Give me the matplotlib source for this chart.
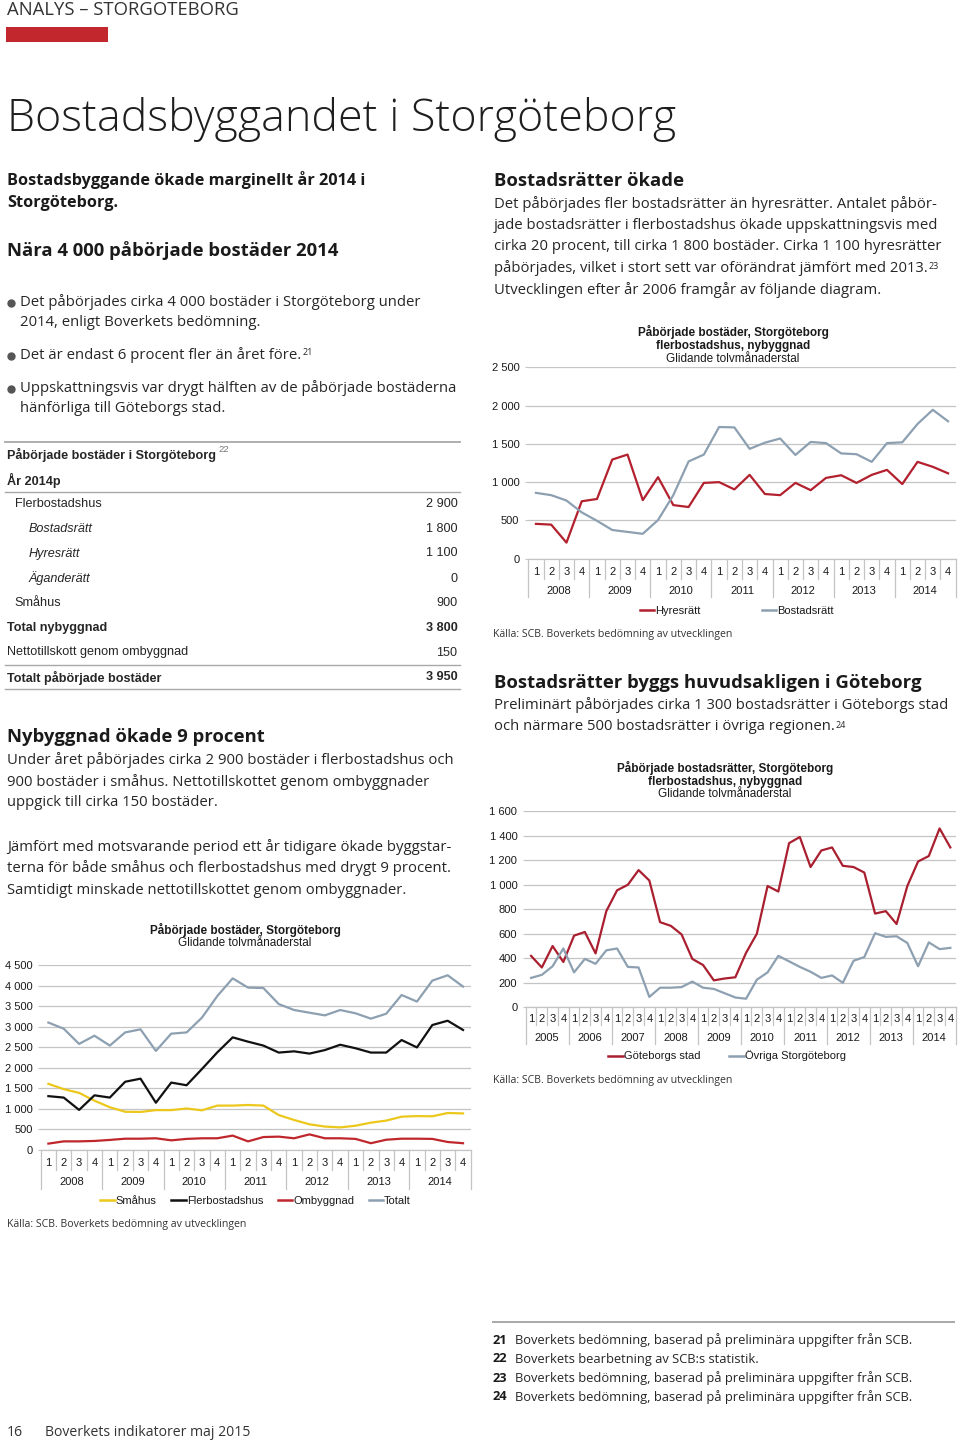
import numpy as np
import matplotlib
matplotlib.use("Agg")
import matplotlib.pyplot as plt
from matplotlib.lines import Line2D
from matplotlib.ticker import FuncFormatter
from matplotlib.transforms import blended_transform_factory

# ---------------- data ----------------
years_a = ["2008", "2009", "2010", "2011", "2012", "2013", "2014"]
smahus = [1610, 1480, 1390, 1200, 1040, 930, 925, 970, 970, 1010, 965, 1080, 1080, 1095,
          1080, 850, 730, 625, 570, 550, 590, 665, 715, 810, 825, 820, 900, 890]
flerbostadshus = [1310, 1275, 975, 1330, 1275, 1660, 1735, 1150, 1640, 1575, 1970, 2375, 2740, 2635,
                  2540, 2370, 2400, 2345, 2430, 2560, 2475, 2370, 2370, 2675, 2495, 3040, 3145, 2920]
ombyggnad = [155, 210, 210, 220, 245, 275, 275, 285, 235, 270, 285, 285, 350, 210,
             315, 325, 285, 380, 285, 285, 270, 165, 250, 275, 275, 270, 195, 165]
totalt = [3100, 2950, 2580, 2780, 2540, 2860, 2935, 2410, 2830, 2860, 3220, 3745, 4175, 3950,
          3940, 3550, 3405, 3340, 3275, 3405, 3325, 3195, 3315, 3770, 3610, 4120, 4250, 3975]

hyresratt = [455, 445, 210, 750, 780, 1295, 1360, 765, 1065, 700, 675, 990, 1000, 905,
             1095, 845, 830, 990, 895, 1055, 1090, 990, 1095, 1160, 975, 1265, 1200, 1115]
bostadsratt = [860, 830, 760, 605, 495, 375, 350, 325, 505, 830, 1270, 1360, 1720, 1715,
               1435, 1515, 1570, 1355, 1525, 1510, 1375, 1365, 1265, 1510, 1520, 1760, 1945, 1795]

years_b = ["2005", "2006", "2007", "2008", "2009", "2010", "2011", "2012", "2013", "2014"]
goteborg = [420, 325, 500, 370, 585, 615, 440, 785, 955, 1000, 1120, 1035, 695, 665, 595, 395,
            345, 220, 235, 245, 445, 600, 990, 945, 1340, 1390, 1145, 1280, 1305, 1155, 1145, 1100,
            765, 785, 680, 990, 1190, 1235, 1460, 1305]
ovriga = [240, 265, 335, 480, 285, 395, 355, 465, 480, 330, 325, 85, 160, 160, 165, 210,
          160, 150, 115, 80, 70, 225, 285, 420, 375, 330, 290, 240, 260, 200, 380, 410,
          605, 575, 580, 525, 335, 530, 475, 485]

table_labels = ["Flerbostadshus", "Bostadsrätt", "Hyresrätt", "Äganderätt", "Småhus",
                "Total nybyggnad", "Nettotillskott genom ombyggnad", "Totalt påbörjade bostäder"]
table_values = ["2 900", "1 800", "1 100", "0", "900", "3 800", "150", "3 950"]

# ---------------- page setup (pixel coordinates) ----------------
W, H = 960, 1443
BODY = ["Open Sans", "DejaVu Sans"]
ARIAL = ["Liberation Sans", "DejaVu Sans"]
INK = "#262626"
GRID = "#c4c4c4"
RED_BAR = "#c1272d"
GREYBLUE = "#8da0b1"

fig = plt.figure(figsize=(W / 100, H / 100), dpi=100)
bg = fig.add_axes([0, 0, 1, 1])
bg.set_xlim(0, W)
bg.set_ylim(H, 0)
bg.axis("off")
renderer = fig.canvas.get_renderer()


def fit(text, target, family=BODY, weight="normal"):
    t = bg.text(0, 0, text, fontsize=10, family=family, fontweight=weight)
    w = t.get_window_extent(renderer).width
    t.remove()
    return 10 * target / w


def txt(x, y, s, size, family=BODY, weight="normal", color=INK, ha="left", style="normal"):
    return bg.text(x, y, s, fontsize=size, family=family, fontweight=weight, color=color,
                   ha=ha, va="center", fontstyle=style)


def sup(t, s, size):
    bg.annotate(s, xy=(1, 1), xycoords=t, xytext=(0.5, -1), textcoords="offset points",
                ha="left", va="top", fontsize=size, family=BODY, color=INK)


# header, red bar, title
txt(7, 10, "ANALYS – STORGÖTEBORG", fit("ANALYS – STORGÖTEBORG", 231), color="#333333")
bg.add_patch(plt.Rectangle((6, 27), 102, 15, color=RED_BAR, lw=0))
txt(7, 120, "Bostadsbyggandet i Storgöteborg",
    fit("Bostadsbyggandet i Storgöteborg", 667, weight=300), weight=300, color="#1e1e1e")

fs_body = fit("Under året påbörjades cirka 2 900 bostäder i flerbostadshus och", 447)
fs_lead = fit("Bostadsbyggande ökade marginellt år 2014 i", 358, weight="bold")
fs_h2 = fit("Bostadsrätter byggs huvudsakligen i Göteborg", 427, weight="bold")
fs_sup = fs_body * 0.6

# left column text
txt(7, 180, "Bostadsbyggande ökade marginellt år 2014 i", fs_lead, weight="bold", color="#1a1a1a")
txt(7, 203, "Storgöteborg.", fs_lead, weight="bold", color="#1a1a1a")
txt(7, 251, "Nära 4 000 påbörjade bostäder 2014", fs_h2, weight="bold", color="#1a1a1a")
bullets = [
    [(302, "Det påbörjades cirka 4 000 bostäder i Storgöteborg under"), (323, "2014, enligt Boverkets bedömning.")],
    [(355, "Det är endast 6 procent fler än året före.")],
    [(388, "Uppskattningsvis var drygt hälften av de påbörjade bostäderna"), (409, "hänförliga till Göteborgs stad.")],
]
for k, lines in enumerate(bullets):
    bg.plot(11, lines[0][0] + 1, "o", ms=5, color="#555555")
    for y, s in lines:
        t = txt(20.5, y, s, fs_body)
    if k == 1:
        sup(t, "21", fs_sup)

txt(7, 737, "Nybyggnad ökade 9 procent", fs_h2, weight="bold", color="#1a1a1a")
for y, s in [(760, "Under året påbörjades cirka 2 900 bostäder i flerbostadshus och"),
             (782, "900 bostäder i småhus. Nettotillskottet genom ombyggnader"),
             (803, "uppgick till cirka 150 bostäder."),
             (847, "Jämfört med motsvarande period ett år tidigare ökade byggstar-"),
             (868, "terna för både småhus och flerbostadshus med drygt 9 procent."),
             (890, "Samtidigt minskade nettotillskottet genom ombyggnader.")]:
    txt(7, y, s, fs_body)

# right column text
txt(494, 181, "Bostadsrätter ökade", fs_h2, weight="bold", color="#1a1a1a")
right_lines = [(204, "Det påbörjades fler bostadsrätter än hyresrätter. Antalet påbör-"),
               (225.5, "jade bostadsrätter i flerbostadshus ökade uppskattningsvis med"),
               (247, "cirka 20 procent, till cirka 1 800 bostäder. Cirka 1 100 hyresrätter"),
               (268.5, "påbörjades, vilket i stort sett var oförändrat jämfört med 2013."),
               (290, "Utvecklingen efter år 2006 framgår av följande diagram.")]
for y, s in right_lines:
    t = txt(494, y, s, fs_body)
    if y == 268.5:
        sup(t, "23", fs_sup)
txt(494, 683, "Bostadsrätter byggs huvudsakligen i Göteborg", fs_h2, weight="bold", color="#1a1a1a")
txt(494, 705, "Preliminärt påbörjades cirka 1 300 bostadsrätter i Göteborgs stad", fs_body)
t = txt(494, 727, "och närmare 500 bostadsrätter i övriga regionen.", fs_body)
sup(t, "24", fs_sup)

# ---------------- table ----------------
fs_tab = fit("Nettotillskott genom ombyggnad", 181, family=ARIAL)
for y, lw in [(442, 1.3), (491.5, 1.0), (664.5, 1.0), (689, 1.0)]:
    bg.plot([5, 460], [y, y], color="#a8a8a8", lw=lw)
t = txt(7, 455, "Påbörjade bostäder i Storgöteborg", fs_tab, family=ARIAL, weight="bold")
bg.annotate("22", xy=(1, 1), xycoords=t, xytext=(2, 2), textcoords="offset points",
            ha="left", va="top", fontsize=fs_tab * 0.75, family=ARIAL, color="#777777")
txt(7, 480, "År 2014p", fs_tab, family=ARIAL, weight="bold")
row_y = [504, 529, 553.5, 578.5, 603.5, 628, 652.5, 677.5]
row_x = [14.5, 29, 29, 29, 14.5, 7, 7, 7]
row_w = ["normal", "normal", "normal", "normal", "normal", "bold", "normal", "bold"]
row_s = ["normal", "italic", "italic", "italic", "normal", "normal", "normal", "normal"]
for lab, val, y, x, w, s in zip(table_labels, table_values, row_y, row_x, row_w, row_s):
    txt(x, y, lab, fs_tab, family=ARIAL, weight=w, style=s)
    txt(457.5, y, val, fs_tab, family=ARIAL, weight=w, ha="right")


# ---------------- charts ----------------
def px_axes(x0, y0, x1, y1):
    return fig.add_axes([x0 / W, 1 - y1 / H, (x1 - x0) / W, (y1 - y0) / H])


def chart(box, series, colors, labels, years, ymax, ystep, title, title_x, title_ys,
          q_y, yr_y, q_end, yr_end, leg_x, leg_y, colspace, src_x, src_y, ypad):
    ax = px_axes(*box)
    n = len(series[0])
    x = np.arange(n)
    for vals, c, lab in zip(series, colors, labels):
        ax.plot(x, vals, color=c, lw=1.6, label=lab)
    ax.set_xlim(-0.5, n - 0.5)
    ax.set_ylim(0, ymax)
    ax.set_yticks(np.arange(0, ymax + 1, ystep))
    ax.yaxis.set_major_formatter(FuncFormatter(lambda v, p: f"{int(v):,}".replace(",", " ")))
    ax.grid(axis="y", color=GRID, lw=0.9)
    ax.set_axisbelow(True)
    for sp in ["left", "top", "right"]:
        ax.spines[sp].set_visible(False)
    ax.spines["bottom"].set_color(GRID)
    ax.spines["bottom"].set_linewidth(0.9)
    ax.set_xticks([])
    ax.tick_params(axis="y", length=2, color=GRID, pad=ypad, labelsize=8, labelcolor="#1a1a1a")
    for lb in ax.get_yticklabels():
        lb.set_family(ARIAL)
    ax.set_facecolor("none")

    trans = blended_transform_factory(ax.transData, bg.transData)
    axis_y = box[3]
    for i in range(n):
        ax.text(i, q_y, str(i % 4 + 1), transform=trans, ha="center", va="center",
                fontsize=8, family=ARIAL, color="#1a1a1a")
    for k, yr in enumerate(years):
        ax.text(4 * k + 1.5, yr_y, yr, transform=trans, ha="center", va="center",
                fontsize=8, family=ARIAL, color="#1a1a1a")
    for b in np.arange(-0.5, n, 1.0):
        end = yr_end if int(b + 0.5) % 4 == 0 else q_end
        ax.plot([b, b], [axis_y, end], transform=trans, clip_on=False, color=GRID, lw=0.9)

    weights = ["bold", "bold", "normal"] if len(title) == 3 else ["bold", "normal"]
    for s, y, w in zip(title, title_ys, weights):
        txt(title_x, y, s, 8.5, family=ARIAL, weight=w, ha="center", color="#1a1a1a")

    handles = [Line2D([], [], color=c, lw=1.8) for c in colors]
    leg = ax.legend(handles, labels, loc="center", bbox_to_anchor=(leg_x / W, 1 - leg_y / H),
                    bbox_transform=fig.transFigure, ncol=len(labels), frameon=False,
                    handlelength=1.3, handletextpad=0.1, columnspacing=colspace,
                    prop={"family": ARIAL, "size": 8})
    for t in leg.get_texts():
        t.set_color("#1a1a1a")
    txt(src_x, src_y, "Källa: SCB. Boverkets bedömning av utvecklingen",
        fit("Källa: SCB. Boverkets bedömning av utvecklingen", 239), color="#333333")
    return ax


chart((40.7, 965, 470.7, 1150), [smahus, flerbostadshus, ombyggnad, totalt],
      ["#ecc81c", "#111111", "#c0272d", GREYBLUE], ["Småhus", "Flerbostadshus", "Ombyggnad", "Totalt"],
      years_a, 4500, 500, ["Påbörjade bostäder, Storgöteborg", "Glidande tolvmånaderstal"],
      245, [930, 943.5], 1162.7, 1181.7, 1170, 1189, 255.7, 1200.7, 1.3, 7, 1224.3, 3.5)

chart((528.3, 367.3, 955.7, 558.7), [hyresratt, bostadsratt], ["#b3202e", GREYBLUE],
      ["Hyresrätt", "Bostadsrätt"], years_a, 2500, 500,
      ["Påbörjade bostäder, Storgöteborg", "flerbostadshus, nybyggnad", "Glidande tolvmånaderstal"],
      733, [331.7, 345.7, 359.3], 572, 590.7, 579.3, 596.7, 737, 610.7, 5.5, 493, 634, 4.5)

chart((525.7, 811.3, 955.7, 1007.3), [goteborg, ovriga], ["#aa1f30", GREYBLUE],
      ["Göteborgs stad", "Övriga Storgöteborg"], years_b, 1600, 200,
      ["Påbörjade bostadsrätter, Storgöteborg", "flerbostadshus, nybyggnad", "Glidande tolvmånaderstal"],
      725, [768.3, 781.7, 794.3], 1019.3, 1037.7, 1025.3, 1044, 727, 1056, 2.6, 493, 1080, 4)

# ---------------- footnotes & footer ----------------
bg.plot([493, 954], [1322, 1322], color="#a8a8a8", lw=1.4)
fs_foot = fit("Boverkets bedömning, baserad på preliminära uppgifter från SCB.", 397)
notes = [("21", "Boverkets bedömning, baserad på preliminära uppgifter från SCB."),
         ("22", "Boverkets bearbetning av SCB:s statistik."),
         ("23", "Boverkets bedömning, baserad på preliminära uppgifter från SCB."),
         ("24", "Boverkets bedömning, baserad på preliminära uppgifter från SCB.")]
for (num, s), y in zip(notes, [1340, 1359, 1378, 1397]):
    txt(493, y, num, fs_foot, weight="bold", color="#1a1a1a")
    txt(515, y, s, fs_foot)

fs_footer = fit("Boverkets indikatorer maj 2015", 205)
txt(7, 1432, "16", fs_footer, color="#333333")
txt(45, 1432, "Boverkets indikatorer maj 2015", fs_footer, color="#333333")

fig.savefig("out.png", dpi=100)
